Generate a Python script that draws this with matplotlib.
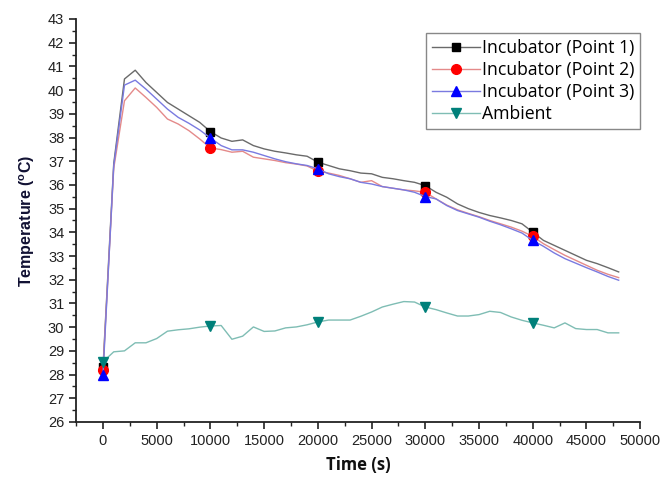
import matplotlib
matplotlib.use('Agg')
import numpy as np
import matplotlib.pyplot as plt
from matplotlib.ticker import MultipleLocator

# ===== data =====
time_s = np.arange(0, 49000, 1000)

point1 = [28.3, 36.9, 40.47, 40.84, 40.32, 39.90, 39.48, 39.20, 38.92, 38.64,
          38.25, 37.98, 37.84, 37.90, 37.66, 37.52, 37.42, 37.35, 37.27, 37.21,
          36.96, 36.82, 36.68, 36.60, 36.50, 36.47, 36.32, 36.26, 36.18, 36.11,
          35.97, 35.69, 35.48, 35.20, 35.00, 34.84, 34.71, 34.61, 34.50, 34.36,
          34.01, 33.66, 33.45, 33.24, 33.03, 32.82, 32.68, 32.51, 32.33]

point2 = [28.2, 36.7, 39.55, 40.09, 39.69, 39.27, 38.78, 38.57, 38.29, 37.94,
          37.56, 37.49, 37.38, 37.42, 37.17, 37.10, 37.03, 36.94, 36.88, 36.80,
          36.58, 36.50, 36.40, 36.26, 36.11, 36.18, 35.93, 35.86, 35.79, 35.75,
          35.69, 35.41, 35.15, 34.95, 34.80, 34.66, 34.50, 34.36, 34.22, 34.05,
          33.83, 33.52, 33.27, 33.03, 32.82, 32.61, 32.40, 32.23, 32.09]

point3 = [28.0, 36.8, 40.21, 40.42, 40.04, 39.62, 39.20, 38.85, 38.60, 38.32,
          37.98, 37.66, 37.48, 37.48, 37.38, 37.24, 37.10, 36.98, 36.89, 36.82,
          36.68, 36.47, 36.35, 36.26, 36.11, 36.04, 35.93, 35.86, 35.79, 35.69,
          35.51, 35.41, 35.13, 34.92, 34.78, 34.64, 34.47, 34.32, 34.15, 33.97,
          33.66, 33.41, 33.13, 32.89, 32.70, 32.51, 32.33, 32.14, 31.98]

ambient = [28.54, 28.96, 29.00, 29.34, 29.34, 29.52, 29.83, 29.89, 29.93, 30.00,
           30.05, 30.07, 29.49, 29.62, 30.01, 29.82, 29.84, 29.97, 30.01, 30.10,
           30.22, 30.30, 30.30, 30.30, 30.46, 30.64, 30.85, 30.97, 31.08, 31.06,
           30.85, 30.74, 30.60, 30.47, 30.47, 30.53, 30.67, 30.62, 30.43, 30.29,
           30.18, 30.08, 29.97, 30.18, 29.94, 29.90, 29.90, 29.76, 29.76]

# ===== figure =====
fig = plt.figure(figsize=(6.62, 4.87), dpi=100)
ax = fig.add_axes([0.115, 0.1335, 0.852, 0.8275])

series = [
    (point1, 'Incubator (Point 1)', '#6a6a6a', 'black', 's', 6),
    (point2, 'Incubator (Point 2)', '#e48a8a', '#ff0000', 'o', 7),
    (point3, 'Incubator (Point 3)', '#7a7ae0', '#0000ff', '^', 7),
    (ambient, 'Ambient', '#7fbdb4', '#00807a', 'v', 7),
]
for vals, lab, lc, mc, mk, ms in series:
    ax.plot(time_s, vals, color=lc, lw=1.0, marker=mk, ms=ms, markevery=10,
            markerfacecolor=mc, markeredgecolor=mc, label=lab)

ax.set_xlim(-2500, 50000)
ax.set_ylim(26, 43)
ax.xaxis.set_major_locator(MultipleLocator(5000))
ax.xaxis.set_minor_locator(MultipleLocator(2500))
ax.yaxis.set_major_locator(MultipleLocator(1))
ax.yaxis.set_minor_locator(MultipleLocator(0.5))

for side in ('top', 'right'):
    ax.spines[side].set_visible(False)
for side in ('left', 'bottom'):
    ax.spines[side].set_linewidth(1.3)
    ax.spines[side].set_color('#222222')

ax.tick_params(which='major', direction='out', length=5, width=1.2,
               labelsize=10.5, colors='#222222')
ax.tick_params(which='minor', direction='out', length=3, width=1.0, colors='#222222')
for lbl in ax.get_xticklabels() + ax.get_yticklabels():
    lbl.set_family('Liberation Sans')

ax.set_xlabel('Time (s)', fontsize=12, fontweight='bold', family='Open Sans',
              color='#111111', labelpad=6)
ax.set_ylabel(r'Temperature ($\mathregular{^{o}}$C)', fontsize=11.5, fontweight='bold',
              family='Liberation Sans', color='#111133', labelpad=8)

leg = ax.legend(loc='upper right', bbox_to_anchor=(0.967, 0.932),
                bbox_transform=fig.transFigure, fancybox=False, framealpha=1,
                edgecolor='#888888', prop={'family': 'Open Sans', 'size': 12.7},
                handlelength=2.7, handletextpad=0.1, borderpad=0.35,
                labelspacing=0.22, borderaxespad=0)
leg.get_frame().set_linewidth(1.0)

fig.savefig('out.png', dpi=100, facecolor='white')
